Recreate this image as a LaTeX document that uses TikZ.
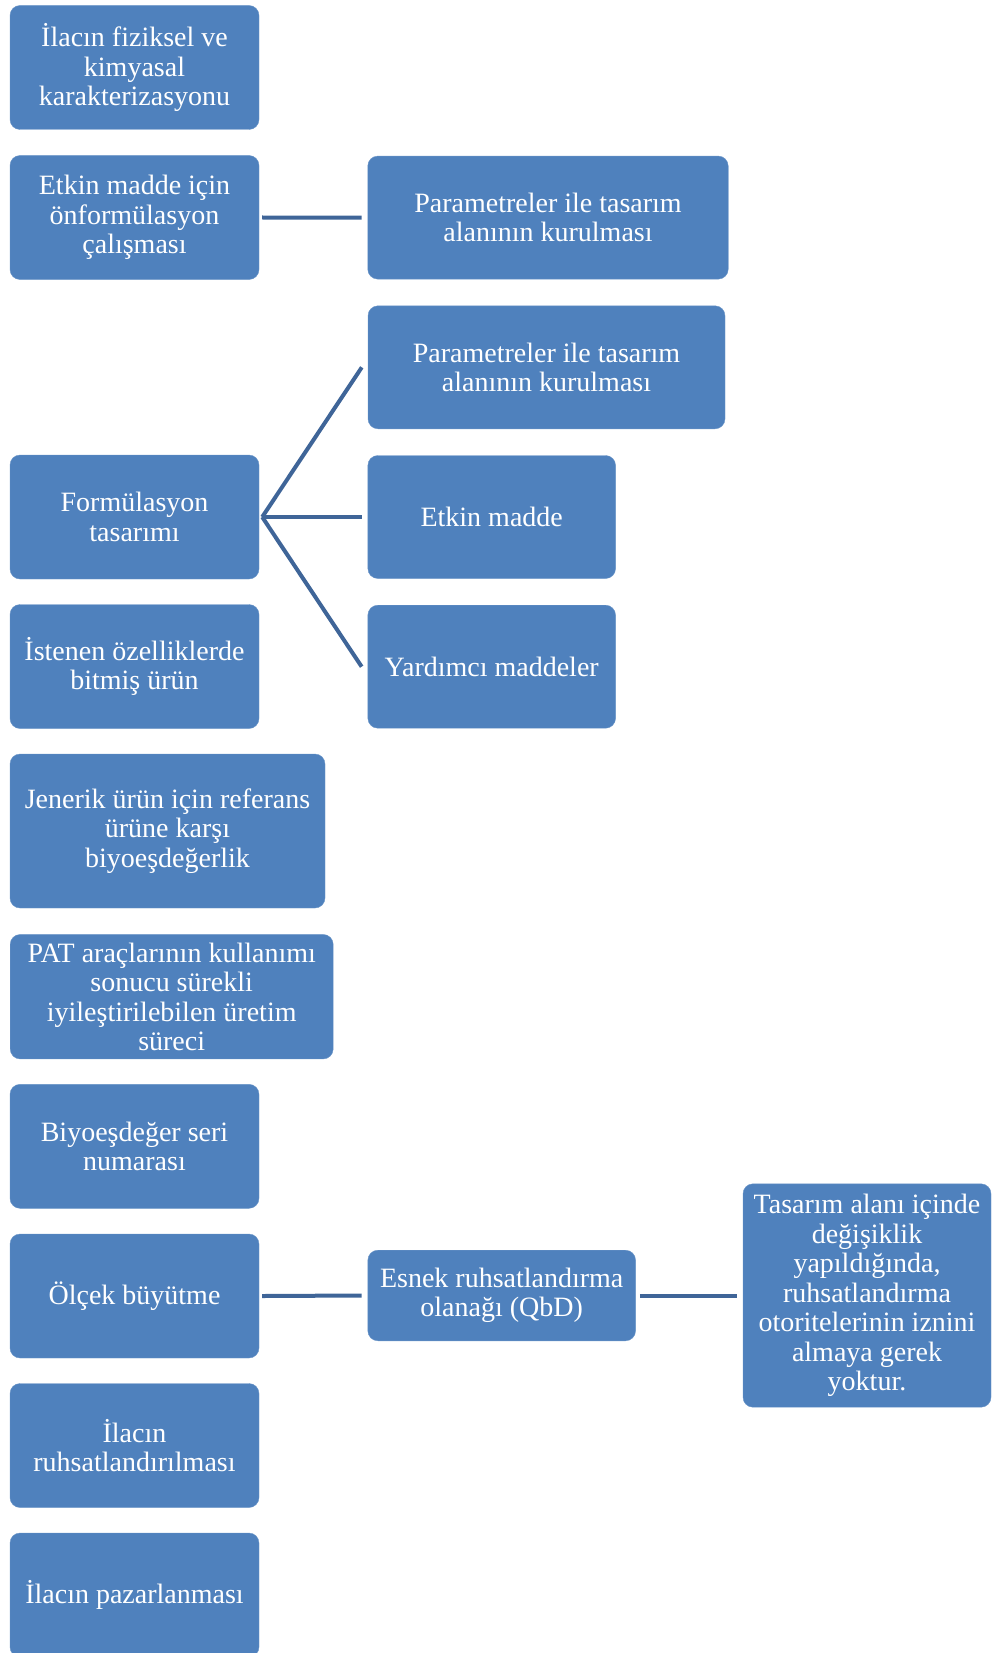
\documentclass[tikz,border=0pt]{standalone}
\usepackage{fontspec}
\setmainfont{Liberation Serif}
\usetikzlibrary{positioning}
\definecolor{boxblue}{HTML}{4F81BD}
\definecolor{lineblue}{HTML}{3F6598}
\tikzset{
    box/.style = {
        rounded corners = 10pt,
        fill = boxblue,
        draw = boxblue!85!white,
        text = white,
        align = center,
        inner sep = 0pt,
        font = \fontsize{28}{29.5}\selectfont
    },
    leftbox/.style = {
        box,
        minimum width = 249pt,
        minimum height = 124pt
    },
    link/.style = {
        draw = lineblue,
        line width = 4pt
    }
}

\begin{document}
\begin{tikzpicture}[x = 1pt, y = -1pt]
    \useasboundingbox
        (0, 0) rectangle (993, 1653)
    ;

    % Left column
    \node [leftbox] (ilac) at (134.5, 67.5)
        {İlacın fiziksel ve\\kimyasal\\karakterizasyonu};
    \node [leftbox] (onform) at (134.5, 217.5)
        {Etkin madde için\\önformülasyon\\çalışması};
    \node [leftbox] (formul) at (134.5, 517)
        {Formülasyon\\tasarımı};
    \node [leftbox] (istenen) at (134.5, 666.5)
        {İstenen özelliklerde\\bitmiş ürün};
    \node [box, minimum width = 315pt, minimum height = 154pt] (jenerik) at (167.5, 831)
        {Jenerik ürün için referans\\ürüne karşı\\biyoeşdeğerlik};
    \node [box, minimum width = 323pt, minimum height = 124.5pt] (pat) at (171.7, 996.7)
        {PAT araçlarının kullanımı\\sonucu sürekli\\iyileştirilebilen üretim\\süreci};
    \node [leftbox] (biyo) at (134.5, 1146.3)
        {Biyoeşdeğer seri\\numarası};
    \node [leftbox] (olcek) at (134.5, 1296)
        {Ölçek büyütme};
    \node [leftbox] (ruhsat) at (134.5, 1445.5)
        {İlacın\\ruhsatlandırılması};
    \node [leftbox] (pazar) at (134.5, 1595)
        {İlacın pazarlanması};

    % Right column
    \node [box, minimum width = 360.5pt, minimum height = 123pt] (parama) at (548, 217.6)
        {Parametreler ile tasarım\\alanının kurulması};
    \node [box, minimum width = 357pt, minimum height = 123pt] (paramb) at (546.5, 367.3)
        {Parametreler ile tasarım\\alanının kurulması};
    \node [box, minimum width = 247.7pt, minimum height = 123pt] (etkin) at (491.7, 517)
        {Etkin madde};
    \node [box, minimum width = 247.7pt, minimum height = 123pt] (yardimci) at (491.7, 666.7)
        {Yardımcı maddeler};
    \node [box, minimum width = 267.7pt, minimum height = 90.6pt] (esnek) at (501.7, 1295.5)
        {Esnek ruhsatlandırma\\olanağı (QbD)};
    \node [box, minimum width = 248pt, minimum height = 223.4pt] (tasarim) at (867, 1295.5)
        {Tasarım alanı içinde\\değişiklik\\yapıldığında,\\ruhsatlandırma\\otoritelerinin iznini\\almaya gerek\\yoktur.};

    % Lines
    \draw
        [link] ([xshift = 3pt]onform.east) -- ([xshift = -6pt]parama.west)
    ;
    \draw
        [link] ([xshift = 3pt]formul.east) -- ([xshift = -6pt]paramb.west)
    ;
    \draw
        [link] ([xshift = 3pt]formul.east) -- ([xshift = -6pt]etkin.west)
    ;
    \draw
        [link] ([xshift = 3pt]formul.east) -- ([xshift = -6pt]yardimci.west)
    ;
    \draw
        [link] ([xshift = 3pt]olcek.east) -- ([xshift = -6pt]esnek.west)
    ;
    \draw
        [link] ([xshift = 4pt]esnek.east) -- ([xshift = -6pt]tasarim.west)
    ;

\end{tikzpicture}
\end{document}
